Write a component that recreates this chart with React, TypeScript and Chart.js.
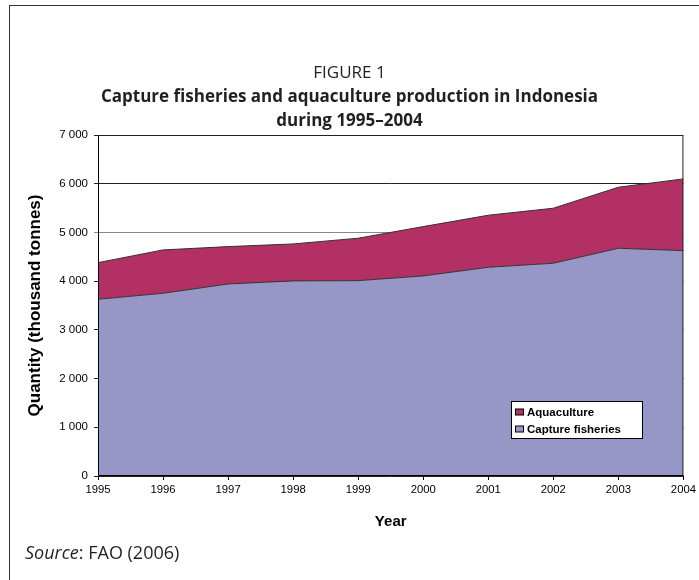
import React, { useEffect, useRef } from "react";
import { Chart, registerables } from "chart.js";

Chart.register(...registerables);

const years = ["1995", "1996", "1997", "1998", "1999", "2000", "2001", "2002", "2003", "2004"];
const captureFisheries = [3628, 3751, 3942, 4005, 4010, 4107, 4285, 4367, 4675, 4626];
const aquaculture = [752, 890, 767, 759, 871, 1013, 1068, 1130, 1253, 1473];
const yTicks = [0, 1000, 2000, 3000, 4000, 5000, 6000, 7000];

const CAPTURE_COLOR = "rgb(150,150,199)";
const AQUA_COLOR = "rgb(178,48,100)";
const ARIAL = "'Liberation Sans', Arial, sans-serif";

const fmt = (v: number) => {
  if (v === 0) return "0";
  const th = Math.floor(v / 1000);
  const rest = String(v % 1000).padStart(3, "0");
  return `${th} ${rest}`;
};

const framePlugin = {
  id: "frameAndLegend",
  afterDatasetsDraw(chart: any) {
    const { ctx, chartArea } = chart;
    const { left, right, top, bottom } = chartArea;
    ctx.save();
    ctx.lineWidth = 1;
    ctx.strokeStyle = "#222";
    ctx.beginPath();
    ctx.moveTo(left + 0.5, top + 0.5);
    ctx.lineTo(right - 0.5, top + 0.5);
    ctx.lineTo(right - 0.5, bottom);
    ctx.stroke();
    ctx.strokeStyle = "#000";
    ctx.beginPath();
    ctx.moveTo(left + 0.5, top);
    ctx.lineTo(left + 0.5, bottom - 0.5);
    ctx.lineTo(right, bottom - 0.5);
    ctx.stroke();

    // legend box
    const bx = 511.5, by = 401.5, bw = 131, bh = 37;
    ctx.fillStyle = "#fff";
    ctx.fillRect(bx, by, bw, bh);
    ctx.strokeStyle = "#000";
    ctx.strokeRect(bx, by, bw, bh);
    const items = [
      { label: chart.data.datasets[1].label, color: AQUA_COLOR },
      { label: chart.data.datasets[0].label, color: CAPTURE_COLOR },
    ];
    ctx.font = `bold 11.5px ${ARIAL}`;
    ctx.textBaseline = "middle";
    items.forEach((it, i) => {
      const cy = 412 + i * 17;
      ctx.fillStyle = it.color;
      ctx.fillRect(515.5, cy - 3, 8, 6);
      ctx.strokeStyle = "#000";
      ctx.strokeRect(515.5, cy - 3, 8, 6);
      ctx.fillStyle = "#000";
      ctx.fillText(it.label, 527, cy + 0.5);
    });
    ctx.restore();
  },
};

export default function App() {
  const ref = useRef<HTMLCanvasElement | null>(null);

  useEffect(() => {
    if (!ref.current) return;
    const chart = new Chart(ref.current, {
      type: "line",
      data: {
        labels: years,
        datasets: [
          {
            label: "Capture fisheries",
            data: captureFisheries,
            backgroundColor: CAPTURE_COLOR,
            borderColor: "#333",
            borderWidth: 1,
            fill: "origin",
            pointRadius: 0,
            tension: 0,
          },
          {
            label: "Aquaculture",
            data: aquaculture,
            backgroundColor: AQUA_COLOR,
            borderColor: "#333",
            borderWidth: 1,
            fill: "-1",
            pointRadius: 0,
            tension: 0,
          },
        ],
      },
      options: {
        responsive: false,
        animation: false,
        devicePixelRatio: 1,
        layout: { padding: { left: 21, top: 135, right: 13, bottom: 45 } },
        plugins: { legend: { display: false }, tooltip: { enabled: false }, title: { display: false } },
        scales: {
          x: {
            type: "category",
            offset: false,
            afterFit: (s: any) => { s.height = 59; },
            grid: { drawOnChartArea: false, drawTicks: true, tickLength: 4, color: "#000" },
            border: { display: false },
            ticks: {
              color: "#000",
              font: { family: ARIAL, size: 11.3 },
              padding: 3,
              maxRotation: 0,
              autoSkip: false,
            },
            title: {
              display: true,
              text: "Year",
              color: "#000",
              font: { family: ARIAL, size: 15, weight: "bold" },
              padding: { top: 4, bottom: 4 },
            },
          },
          y: {
            stacked: true,
            min: 0,
            max: 7000,
            afterFit: (s: any) => { s.width = 77; },
            afterBuildTicks: (s: any) => { s.ticks = yTicks.map((v) => ({ value: v })); },
            grid: {
              drawTicks: true,
              tickLength: 4,
              color: (c: any) => (c.tick && c.tick.value === 5000 ? "#888" : "#222"),
            },
            border: { display: false },
            ticks: {
              color: "#000",
              font: { family: ARIAL, size: 11.5 },
              padding: 6,
              callback: (v: any) => fmt(Number(v)),
            },
            title: {
              display: true,
              text: "Quantity (thousand tonnes)",
              color: "#000",
              font: { family: ARIAL, size: 17, weight: "bold" },
              padding: { top: 4, bottom: 4 },
            },
          },
        },
      },
      plugins: [framePlugin],
    });
    return () => chart.destroy();
  }, []);

  const titleFont = "'Open Sans', 'Noto Sans', sans-serif";

  return (
    <div style={{ position: "fixed", left: 0, top: 0, width: 699, height: 580, background: "#fff", overflow: "hidden" }}>
      <div style={{ position: "absolute", left: 9, top: 5, width: 800, height: 700, borderLeft: "1px solid #333", borderTop: "1px solid #333" }} />
      <canvas ref={ref} width={699} height={580} style={{ position: "absolute", left: 0, top: 0 }} />
      <div style={{ position: "absolute", left: 0, width: 699, top: 60, textAlign: "center", fontFamily: titleFont, color: "#231f20" }}>
        <div style={{ fontSize: 17, lineHeight: "24px" }}>FIGURE 1</div>
        <div style={{ fontSize: 17, fontWeight: "bold", lineHeight: "24px" }}>
          Capture fisheries and aquaculture production in Indonesia
        </div>
        <div style={{ fontSize: 17, fontWeight: "bold", lineHeight: "24px" }}>during 1995–2004</div>
      </div>
      <div style={{ position: "absolute", left: 25, top: 540, fontFamily: titleFont, fontSize: 18, color: "#231f20" }}>
        <i>Source</i>: FAO (2006)
      </div>
    </div>
  );
}
